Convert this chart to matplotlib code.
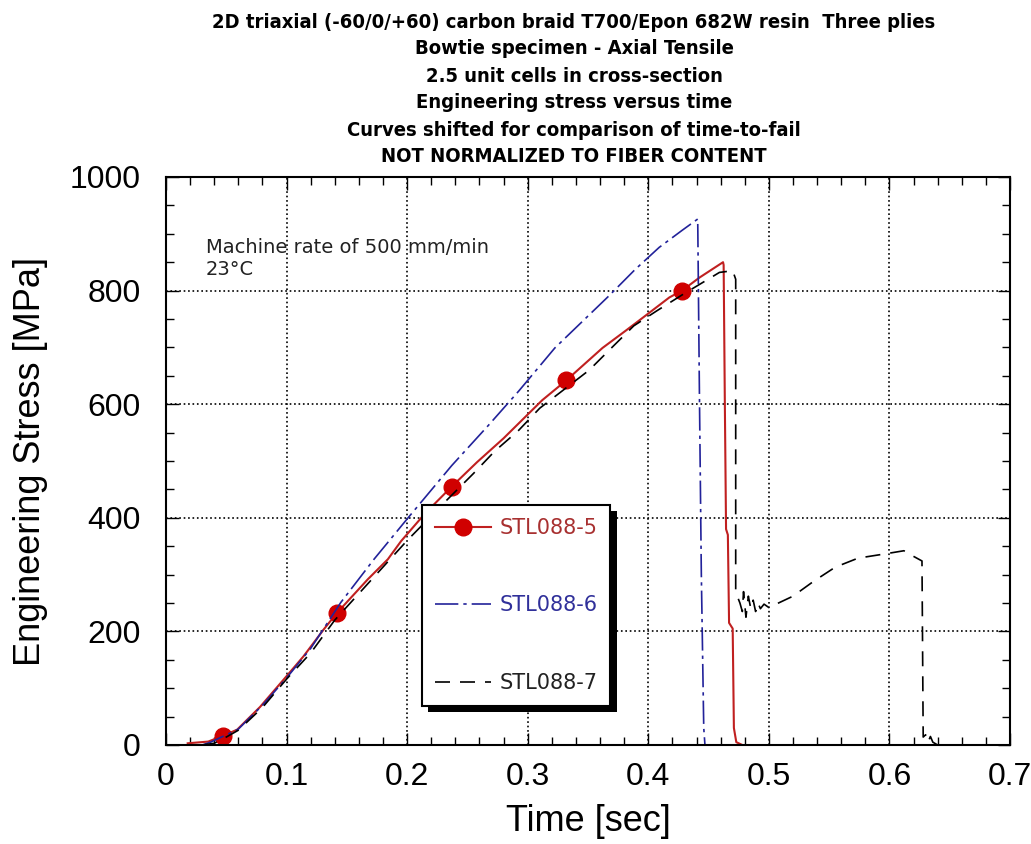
import matplotlib
matplotlib.use("Agg")
import matplotlib.pyplot as plt
import matplotlib.patheffects as pe
from matplotlib.ticker import MultipleLocator

# STL088-5 (red, circle markers)
t5 = [0.018, 0.035, 0.047, 0.059, 0.078, 0.0975, 0.114, 0.131, 0.142, 0.1675, 0.184,
      0.195, 0.215, 0.237, 0.258, 0.28, 0.312, 0.332, 0.362, 0.381, 0.399, 0.4175,
      0.428, 0.4425, 0.462, 0.4625, 0.4635, 0.4645, 0.466, 0.467, 0.470, 0.471, 0.473, 0.478]
s5 = [3, 6, 16, 27, 67, 115, 156, 204, 233, 292, 327,
      359, 408, 455, 498, 540, 607, 642, 699, 729, 758, 788,
      800, 823, 850, 845, 600, 380, 370, 215, 205, 30, 5, 0]
marker_idx5 = [2, 8, 13, 17, 22]

# STL088-6 (blue, dash-dot)
t6 = [0.03, 0.037, 0.05, 0.06, 0.08, 0.1, 0.12, 0.145, 0.1725, 0.2, 0.237, 0.2675,
      0.2925, 0.3225, 0.3675, 0.389, 0.409, 0.428, 0.441, 0.4425, 0.444, 0.446, 0.447]
s6 = [0, 5, 18, 28, 70, 118, 170, 251, 327, 398, 492, 563,
      623, 699, 791, 837, 876, 906, 926, 600, 300, 30, 0]

# STL088-7 (black, dashed)
t7 = [0.03, 0.04, 0.05, 0.06, 0.08, 0.1, 0.12, 0.14, 0.17, 0.2, 0.23, 0.255, 0.2725,
      0.2925, 0.31, 0.351, 0.368, 0.388, 0.4075, 0.43, 0.452, 0.459, 0.47, 0.4725,
      0.4725, 0.476, 0.478, 0.479, 0.481, 0.483, 0.485, 0.487, 0.489, 0.491, 0.493,
      0.496, 0.5, 0.52, 0.537, 0.555, 0.574, 0.595, 0.612, 0.6175, 0.627, 0.628,
      0.63, 0.632, 0.634, 0.636, 0.64]
s7 = [0, 3, 14, 26, 66, 116, 162, 220, 290, 360, 425, 478, 517,
      554, 593, 660, 696, 738, 765, 795, 823, 832, 835, 820,
      269, 250, 235, 270, 225, 262, 240, 255, 235, 250, 240,
      248, 242, 262, 288, 313, 329, 336, 342, 335, 324, 14,
      18, 5, 15, 5, 0]

title_lines = ["2D triaxial (-60/0/+60) carbon braid T700/Epon 682W resin  Three plies",
               "Bowtie specimen - Axial Tensile",
               "2.5 unit cells in cross-section",
               "Engineering stress versus time",
               "Curves shifted for comparison of time-to-fail",
               "NOT NORMALIZED TO FIBER CONTENT"]

plt.rcParams['font.family'] = ['Liberation Sans', 'DejaVu Sans']

fig = plt.figure(figsize=(10.31, 8.44), dpi=100)
ax = fig.add_axes([166/1031, 99/844, 844/1031, 568/844])

ax.plot(t5, s5, '-', color='#c02020', lw=1.5, marker='o', markersize=12,
        markerfacecolor='#d00000', markeredgecolor='#d00000',
        markevery=marker_idx5, label='STL088-5')
ax.plot(t6, s6, color='#22229a', lw=1.2, dashes=(14, 3, 2, 3), label='STL088-6')
ax.plot(t7, s7, color='black', lw=1.2, dashes=(9, 6), label='STL088-7')

ax.set_xlim(0, 0.7)
ax.set_ylim(0, 1000)
ax.set_xticks([0, 0.1, 0.2, 0.3, 0.4, 0.5, 0.6, 0.7])
ax.set_xticklabels(['0', '0.1', '0.2', '0.3', '0.4', '0.5', '0.6', '0.7'])
ax.xaxis.set_minor_locator(MultipleLocator(0.02))
ax.yaxis.set_major_locator(MultipleLocator(200))
ax.yaxis.set_minor_locator(MultipleLocator(50))

ax.tick_params(which='both', direction='in', top=True, right=True, width=1)
ax.tick_params(which='major', length=9, labelsize=23, pad=12)
ax.tick_params(which='minor', length=6)
ax.tick_params(axis='y', which='major', pad=18)
for sp in ax.spines.values():
    sp.set_linewidth(1.5)
ax.grid(True, which='major', color='black', linestyle=':', linewidth=1.2)

ax.set_xlabel('Time [sec]', fontsize=26)
ax.set_ylabel('Engineering Stress [MPa]', fontsize=26)
ax.xaxis.set_label_coords(0.5, -0.103)
ax.yaxis.set_label_coords(-0.14, 0.5)

ax.text(0.047, 0.866, 'Machine rate of 500 mm/min', transform=ax.transAxes,
        fontsize=14, family='DejaVu Sans', va='baseline', color='#222222')
ax.text(0.047, 0.827, '23°C', transform=ax.transAxes,
        fontsize=14, family='DejaVu Sans', va='baseline', color='#222222')

leg = ax.legend(loc='upper left', bbox_to_anchor=(0.303, 0.4225), borderaxespad=0,
                fancybox=False, framealpha=1, edgecolor='black',
                prop={'family': 'DejaVu Sans', 'size': 15},
                labelspacing=2.76, handlelength=2.7, handletextpad=0.4,
                borderpad=0.62, numpoints=1)
leg.get_frame().set_linewidth(1.5)
leg.get_frame().set_path_effects([pe.SimplePatchShadow(offset=(4.5, -4.5), shadow_rgbFace='black', alpha=1),
                                  pe.Normal()])
for txt, c in zip(leg.get_texts(), ['#a83030', '#30309a', '#222222']):
    txt.set_color(c)

for i, line in enumerate(title_lines):
    fig.text(574/1031, 1 - (22 + 27*i)/844, line, ha='center', va='center',
             fontsize=14.5, fontweight='bold', stretch='condensed',
             family=['Liberation Sans Narrow', 'DejaVu Sans'])

fig.savefig('out.png', dpi=100)
